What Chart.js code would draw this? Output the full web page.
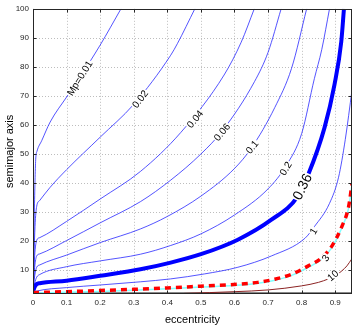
<!DOCTYPE html>
<html>
<head>
<meta charset="utf-8">
<script src="https://cdn.jsdelivr.net/npm/chart.js@4"></script>
<style>
  html, body { margin: 0; padding: 0; background: #fff; }
  #wrap { width: 354px; height: 327px; }
</style>
</head>
<body>
<div id="wrap"><canvas id="chart" width="354" height="327"></canvas></div>
<script>
// contour lines, eccentricity (x) vs semimajor axis (y)
const eccMp001 = [0, 0.004, 0.008, 0.012, 0.026, 0.051, 0.1, 0.135, 0.2, 0.262];
const smaMp001 = [2.5, 30, 48, 51, 54.6, 61, 69.6, 75.6, 87.5, 100];

const eccMp002 = [0, 0.006, 0.011, 0.02, 0.05, 0.1, 0.2, 0.3, 0.41, 0.43, 0.482];
const smaMp002 = [2.5, 25, 32, 34, 38.4, 44.6, 55.8, 67.1, 84, 88, 100];

const eccMp004 = [0, 0.005, 0.011, 0.02, 0.1, 0.2, 0.32, 0.44, 0.569, 0.62, 0.659];
const smaMp004 = [2.5, 15, 20.3, 21.2, 26.8, 34.5, 44, 57.4, 77.2, 88.5, 100];

const eccMp006 = [0, 0.005, 0.011, 0.02, 0.1, 0.2, 0.32, 0.41, 0.5, 0.564, 0.66, 0.7, 0.739];
const smaMp006 = [2.5, 11, 14.9, 15.6, 20.2, 26.3, 33.6, 41, 50, 58, 75, 85, 100];

const eccMp01 = [0, 0.005, 0.011, 0.02, 0.1, 0.2, 0.32, 0.4, 0.5, 0.6, 0.65, 0.72, 0.77, 0.815];
const smaMp01 = [2.5, 8, 11, 11.8, 15.2, 19.5, 24.2, 28.5, 35.5, 45, 52, 66, 79.5, 100];

const eccMp02 = [0, 0.005, 0.011, 0.02, 0.1, 0.2, 0.32, 0.41, 0.5, 0.6, 0.7, 0.754, 0.8, 0.838, 0.86, 0.883];
const smaMp02 = [2.5, 5.5, 7.6, 8.5, 11.2, 13.2, 15.5, 18.5, 22.5, 29, 38, 46, 57, 76, 86, 100];

const eccMp036 = [0, 0.004, 0.011, 0.02, 0.1, 0.2, 0.32, 0.41, 0.5, 0.61, 0.709, 0.788, 0.82, 0.868, 0.898, 0.918, 0.926];
const smaMp036 = [2.5, 4, 5.2, 5.5, 6.4, 8.1, 10.3, 12.6, 15.5, 20.5, 27.3, 35.3, 43, 59, 74, 88.6, 100];

const eccMp1 = [0, 0.011, 0.1, 0.2, 0.32, 0.41, 0.51, 0.61, 0.71, 0.81, 0.838, 0.883, 0.91, 0.93, 0.95];
const smaMp1 = [2.3, 2.8, 4, 4.9, 6, 7, 8.7, 11, 14.9, 21, 25, 33, 42, 55, 72];

const eccMp3 = [0, 0.1, 0.2, 0.3, 0.4, 0.5, 0.62, 0.67, 0.72, 0.77, 0.82, 0.86, 0.89, 0.92, 0.94, 0.95];
const smaMp3 = [2.3, 2.6, 3.0, 3.4, 3.9, 4.5, 5.24, 5.8, 6.9, 8.6, 11.5, 14.3, 18.3, 25.1, 31.9, 39.8];

const eccCyan = [0, 0.1, 0.2, 0.3, 0.4, 0.5, 0.62, 0.67, 0.72, 0.77, 0.82, 0.86, 0.89, 0.92, 0.94, 0.95];
const smaCyan = [2.1, 2.4, 2.7, 3.1, 3.6, 4.2, 4.9, 5.5, 6.5, 8.2, 11, 13.8, 17.8, 24.6, 31.4, 39.3];

const eccMp10 = [0.45, 0.6, 0.7, 0.8, 0.85, 0.88, 0.9, 0.92, 0.935, 0.95];
const smaMp10 = [2.0, 2.6, 3.2, 4.6, 5.8, 7, 8, 9.8, 11.5, 14];

const eccFloor = [0, 0.95];
const smaFloor = [2, 2];

const xTicks = [0, 0.1, 0.2, 0.3, 0.4, 0.5, 0.6, 0.7, 0.8, 0.9];
const yTicks = [10, 20, 30, 40, 50, 60, 70, 80, 90, 100];

// contour labels
const labelText = ['Mp=0.01', '0.02', '0.04', '0.06', '0.1', '0.2', '0.36', '1', '3', '10'];
const labelEcc = [0.1405, 0.32, 0.484, 0.564, 0.654, 0.754, 0.804, 0.837, 0.873, 0.894];
const labelSma = [76, 68.8, 61.9, 57.4, 52.3, 44.9, 38.6, 23.3, 14.1, 8];
const labelAngle = [-58, -52, -50, -50, -50, -58, -64, -60, -55, -40];
const labelSize = [10, 10, 10, 10, 10, 10, 14, 10, 10, 10];

function pts(xs, ys) {
  return xs.map((x, i) => ({x: x, y: ys[i]}));
}

function line(xs, ys, color, width, extra) {
  return Object.assign({
    data: pts(xs, ys),
    showLine: true,
    borderColor: color,
    borderWidth: width,
    pointRadius: 0,
    fill: false,
    cubicInterpolationMode: 'monotone',
    clip: 0,
    order: 3
  }, extra || {});
}

const thin = 'rgba(30,30,255,0.85)';

const decor = {
  id: 'decor',
  beforeDatasetsDraw(chart) {
    const ctx = chart.ctx, a = chart.chartArea;
    const xs = chart.scales.x, ys = chart.scales.y;
    ctx.save();
    ctx.strokeStyle = '#bdbdbd';
    ctx.lineWidth = 1;
    ctx.setLineDash([1, 2]);
    xTicks.forEach(v => {
      const p = Math.round(xs.getPixelForValue(v)) + 0.5;
      ctx.beginPath(); ctx.moveTo(p, a.top); ctx.lineTo(p, a.bottom); ctx.stroke();
    });
    yTicks.forEach(v => {
      const p = Math.round(ys.getPixelForValue(v)) + 0.5;
      ctx.beginPath(); ctx.moveTo(a.left, p); ctx.lineTo(a.right, p); ctx.stroke();
    });
    ctx.restore();
  },
  afterDatasetsDraw(chart) {
    const ctx = chart.ctx, a = chart.chartArea;
    const xs = chart.scales.x, ys = chart.scales.y;
    ctx.save();
    // contour labels
    labelText.forEach((t, i) => {
      const px = xs.getPixelForValue(labelEcc[i]);
      const py = ys.getPixelForValue(labelSma[i]);
      ctx.save();
      ctx.translate(px, py);
      ctx.rotate(labelAngle[i] * Math.PI / 180);
      ctx.font = labelSize[i] + 'px "Liberation Sans", Arial, sans-serif';
      const w = ctx.measureText(t).width;
      ctx.fillStyle = '#fff';
      ctx.fillRect(-w / 2 - 1, -labelSize[i] * 0.5, w + 2, labelSize[i]);
      ctx.fillStyle = '#000';
      ctx.textAlign = 'center';
      ctx.textBaseline = 'middle';
      ctx.fillText(t, 0, 0);
      ctx.restore();
    });
    // box and inside ticks
    ctx.lineWidth = 1;
    ctx.setLineDash([]);
    const L = Math.round(a.left) + 0.5, R = Math.round(a.right) - 0.5;
    const T = Math.round(a.top) + 0.5, B = Math.round(a.bottom) - 0.5;
    ctx.strokeStyle = '#262626';
    ctx.strokeRect(L, T, R - L, B - T);
    ctx.beginPath();
    xTicks.forEach(v => {
      const p = Math.round(xs.getPixelForValue(v)) + 0.5;
      ctx.moveTo(p, B); ctx.lineTo(p, B - 3);
      ctx.moveTo(p, T); ctx.lineTo(p, T + 3);
    });
    yTicks.forEach(v => {
      const p = Math.round(ys.getPixelForValue(v)) + 0.5;
      ctx.moveTo(L, p); ctx.lineTo(L + 3, p);
      ctx.moveTo(R, p); ctx.lineTo(R - 3, p);
    });
    ctx.stroke();
    ctx.restore();
  }
};

new Chart(document.getElementById('chart').getContext('2d'), {
  type: 'scatter',
  data: {
    datasets: [
      line(eccFloor, smaFloor, '#888888', 3, {order: 9}),
      line(eccMp001, smaMp001, thin, 0.9),
      line(eccMp002, smaMp002, thin, 0.9),
      line(eccMp004, smaMp004, thin, 0.9),
      line(eccMp006, smaMp006, thin, 0.9),
      line(eccMp01, smaMp01, thin, 0.9),
      line(eccMp02, smaMp02, thin, 0.9),
      line(eccMp036, smaMp036, '#0000ff', 4, {order: 2}),
      line(eccMp1, smaMp1, thin, 0.9),
      line(eccCyan, smaCyan, '#80ffff', 1.5, {order: 5}),
      line(eccMp3, smaMp3, '#ff0000', 3.5, {order: 1, borderDash: [6, 5]}),
      line(eccMp10, smaMp10, '#8b2323', 1, {order: 4})
    ]
  },
  options: {
    responsive: false,
    animation: false,
    layout: { padding: { top: 7, right: 2, left: 0, bottom: 0 } },
    plugins: { legend: { display: false }, tooltip: { enabled: false } },
    scales: {
      x: {
        type: 'linear',
        min: 0,
        max: 0.95,
        afterBuildTicks: s => { s.ticks = xTicks.map(v => ({value: v})); },
        afterFit: s => { s.height = 33; },
        grid: { display: false, drawTicks: false },
        border: { display: false },
        ticks: {
          padding: 4,
          color: '#262626',
          font: { family: '"Liberation Sans", Arial, sans-serif', size: 8 },
          callback: v => String(v),
          maxRotation: 0,
          autoSkip: false
        },
        title: {
          display: true,
          text: 'eccentricity',
          color: '#000',
          padding: { top: 3, bottom: 0 },
          font: { family: '"Liberation Sans", Arial, sans-serif', size: 11 }
        }
      },
      y: {
        type: 'linear',
        min: 1.8,
        max: 100,
        afterBuildTicks: s => { s.ticks = yTicks.map(v => ({value: v})); },
        afterFit: s => { s.width = 33; },
        grid: { display: false, drawTicks: false },
        border: { display: false },
        ticks: {
          padding: 4,
          color: '#262626',
          font: { family: '"Liberation Sans", Arial, sans-serif', size: 8 },
          autoSkip: false
        },
        title: {
          display: true,
          text: 'semimajor axis',
          color: '#000',
          padding: { top: 3, bottom: 0 },
          font: { family: '"Liberation Sans", Arial, sans-serif', size: 11 }
        }
      }
    }
  },
  plugins: [decor]
});
</script>
</body>
</html>
